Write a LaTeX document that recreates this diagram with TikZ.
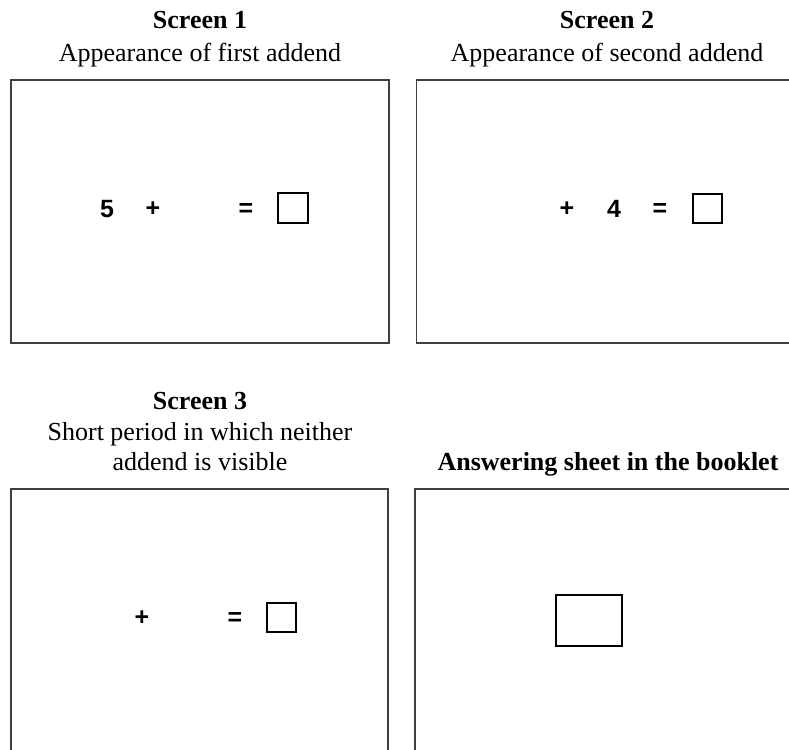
\documentclass[tikz,border=0pt]{standalone}
\usepackage{fontspec}
\setmainfont{Liberation Serif}
\newfontfamily\arialfont{Liberation Sans}
\begin{document}
\begin{tikzpicture}[x=1pt,y=-1pt,
  screen/.style={draw=black!75, line width=1.3pt, inner sep=0pt, outer sep=0pt},
  title/.style={font=\fontsize{26}{30}\selectfont\bfseries, anchor=base, inner sep=0pt},
  sub/.style={font=\fontsize{26}{30}\selectfont, anchor=base, inner sep=0pt},
  sym/.style={font=\arialfont\bfseries\fontsize{25}{25}\selectfont, inner sep=0pt},
  ansbox/.style={draw=black, line width=1.8pt, inner sep=0pt}]
\useasboundingbox (0,0) rectangle (789,749);
\clip (0,0) rectangle (789,749);

% screen frames
\node[screen, minimum width=378pt, minimum height=263pt] (s1) at (200,211.5) {};
\node[screen, minimum width=378pt, minimum height=263pt] (s2) at (605.5,211.5) {};
\node[screen, minimum width=377pt, minimum height=281pt] (s3) at (199.5,629.5) {};
\node[screen, minimum width=378pt, minimum height=281pt] (s4) at (604,629.5) {};

% titles
\node[title] (t1) at (200,29) {Screen 1};
\node[sub] (d1) at (200,62) {Appearance of first addend};
\node[title] (t2) at (607,29) {Screen 2};
\node[sub] (d2) at (607,62) {Appearance of second addend};
\node[title] (t3) at (200,409) {Screen 3};
\node[sub] (d3a) at (200,440) {Short period in which neither};
\node[sub] (d3b) at (200,470) {addend is visible};
\node[title] (t4) at (608,470) {Answering sheet in the booklet};

% screen 1
\node[sym] (a5) at (107,209) {5};
\node[sym] (ap) at (153,209.5) {+};
\node[sym] (ae) at (246,210) {=};
\node[ansbox, minimum width=30pt, minimum height=30pt] (ab) at (293,208) {};

% screen 2
\node[sym] (bp) at (567,209.5) {+};
\node[sym] (b4) at (614,209) {4};
\node[sym] (be) at (660,210) {=};
\node[ansbox, minimum width=29pt, minimum height=29pt] (bb) at (707.5,208.5) {};

% screen 3
\node[sym] (cp) at (142,618.5) {+};
\node[sym] (ce) at (235,619) {=};
\node[ansbox, minimum width=29pt, minimum height=29pt] (cb) at (281.5,617.5) {};

% answering sheet
\node[ansbox, minimum width=66pt, minimum height=51pt] (db) at (589,620.5) {};
\end{tikzpicture}
\end{document}
